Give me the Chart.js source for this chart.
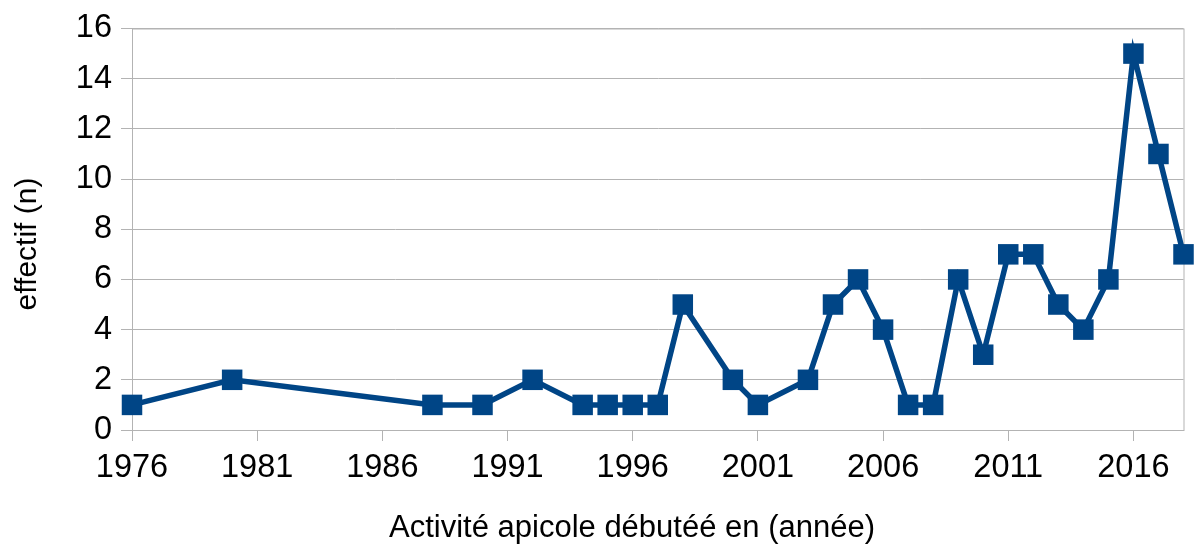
<!DOCTYPE html>
<html lang="fr">
<head>
    <meta charset=utf-8>
    <title>Activité apicole</title>
    <script src="https://cdn.jsdelivr.net/npm/chart.js@4.4.1/dist/chart.umd.min.js"></script>
    <style>
        html, body { margin: 0; padding: 0; background: #fff; }
        #wrap { width: 1198px; height: 547px; position: relative; }
    </style>
</head>
<body>
<div id="wrap"><canvas id="myChart"></canvas></div>
<script>
    // years (x) and counts (y)
    var years = [1976, 1980, 1988, 1990, 1992, 1994, 1995, 1996, 1997, 1998, 2000, 2001, 2003,
        2004, 2005, 2006, 2007, 2008, 2009, 2010, 2011, 2012, 2013, 2014, 2015, 2016, 2017, 2018];
    var counts = [1, 2, 1, 1, 2, 1, 1, 1, 1, 5, 2, 1, 2,
        5, 6, 4, 1, 1, 6, 3, 7, 7, 5, 4, 6, 15, 11, 7];
    var xTicks = [1976, 1981, 1986, 1991, 1996, 2001, 2006, 2011, 2016];
    var yTicks = [0, 2, 4, 6, 8, 10, 12, 14, 16];
    var xTitle = 'Activité apicole débutéé en (année)';
    var yTitle = 'effectif (n)';

    var blue = '#004586';
    var grey = '#b3b3b3';
    var family = '"Liberation Sans", Arial, sans-serif';
    var font = {family: family, size: 32.5};

    var points = years.map(function (y, i) {
        return {x: y, y: counts[i]};
    });

    // box around the plot area, plus the two axis titles (placed like the original, off-centre)
    var frame = {
        id: 'frame',
        beforeDatasetsDraw: function (chart) {
            var a = chart.chartArea, ctx = chart.ctx;
            ctx.save();
            ctx.strokeStyle = grey;
            ctx.lineWidth = 1;
            ctx.strokeRect(a.left + 0.5, a.top + 0.5, a.right - a.left, a.bottom - a.top);
            ctx.restore();
        },
        afterDraw: function (chart) {
            var ctx = chart.ctx;
            ctx.save();
            ctx.fillStyle = '#000';
            ctx.textAlign = 'center';
            ctx.textBaseline = 'middle';
            ctx.font = '31px ' + family;
            ctx.fillText(xTitle, 632, 528);
            ctx.translate(28, 244);
            ctx.rotate(-Math.PI / 2);
            ctx.font = '30px ' + family;
            ctx.fillText(yTitle, 0, 0);
            ctx.restore();
        }
    };

    var ctx = document.getElementById('myChart').getContext('2d');
    new Chart(ctx, {
        type: 'line',
        data: {
            datasets: [{
                data: points,
                borderColor: blue,
                backgroundColor: blue,
                borderWidth: 5.5,
                pointStyle: 'rect',
                pointRadius: 14.5,
                pointHoverRadius: 14.5,
                pointBorderWidth: 0,
                tension: 0,
                clip: false
            }]
        },
        options: {
            responsive: true,
            maintainAspectRatio: false,
            animation: false,
            layout: {padding: {top: 22, right: 11, left: 0, bottom: 0}},
            plugins: {legend: {display: false}, tooltip: {enabled: false}},
            scales: {
                x: {
                    type: 'linear',
                    min: 1976,
                    max: 2018,
                    afterBuildTicks: function (scale) {
                        scale.ticks = xTicks.map(function (v) { return {value: v}; });
                    },
                    afterFit: function (scale) { scale.height = 117; },
                    grid: {drawOnChartArea: false, color: grey, tickLength: 11},
                    border: {color: grey},
                    ticks: {color: '#000', font: font, padding: 8, maxRotation: 0,
                        callback: function (v) { return String(v); }},
                    title: {display: false}
                },
                y: {
                    min: 0,
                    max: 16,
                    afterBuildTicks: function (scale) {
                        scale.ticks = yTicks.map(function (v) { return {value: v}; });
                    },
                    afterFit: function (scale) { scale.width = 132; },
                    grid: {color: grey, tickLength: 11},
                    border: {color: grey},
                    ticks: {color: '#000', font: font, padding: 9},
                    title: {display: false}
                }
            }
        },
        plugins: [frame]
    });
</script>
</body>
</html>
